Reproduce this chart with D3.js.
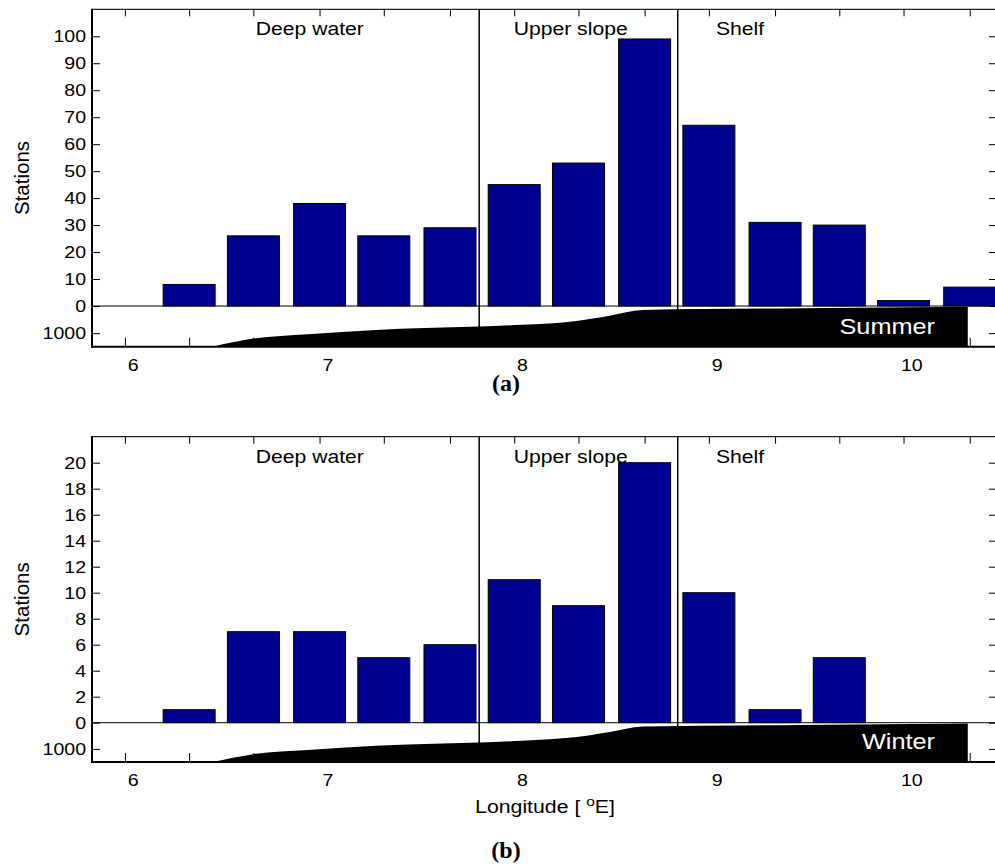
<!DOCTYPE html>
<html>
<head>
<meta charset="utf-8">
<script src="https://cdn.jsdelivr.net/npm/d3@7/dist/d3.min.js"></script>
<style>
  html, body { margin: 0; padding: 0; background: #fff; }
  svg { display: block; }
  text { font-family: "Liberation Sans", Arial, Helvetica, sans-serif; fill: #000; }
</style>
</head>
<body>
<svg id="chart" width="995" height="866"></svg>
<script>
// ---------------- data ----------------
const lonTicks = [6, 7, 8, 9, 10];
const binCenters = [5.96, 6.29, 6.62, 6.96, 7.29, 7.63, 7.96, 8.29, 8.63, 8.96, 9.30, 9.63, 9.96, 10.30];
const summerCounts = [0, 8, 26, 38, 26, 29, 45, 53, 99, 67, 31, 30, 2, 7];
const winterCounts = [0, 1, 7, 7, 5, 6, 11, 9, 20, 10, 1, 5, 0, 0];
const summerTicks = [0, 10, 20, 30, 40, 50, 60, 70, 80, 90, 100];
const winterTicks = [0, 2, 4, 6, 8, 10, 12, 14, 16, 18, 20];
const depthTicks = [1000];
const bathyLon   = [6.41, 6.62, 6.90, 7.25, 7.50, 7.78, 8.00, 8.28, 8.45, 8.62, 9.43, 10.29];
const bathyDepth = [1500, 1200, 1040, 880, 810, 757, 690, 549, 355, 146, 84, 26];
const zoneBounds = [7.78, 8.80];
const zoneNames = ["Deep water", "Upper slope", "Shelf"];
const zoneLabelLon = [6.91, 8.25, 9.12];

// ---------------- layout ----------------
const svg = d3.select("#chart");
const SX = 1.15; // horizontal stretch of text in the original
const left = 92, right = 996;
const x = d3.scaleLinear().domain([5.791, 10.435]).range([left, right]);
const binStep = 0.3339;
const barHalf = binStep * 0.8 / 2;

function stext(parent, px, py, str, size, anchor, extra) {
  const g = parent.append("g").attr("transform", `translate(${px},${py}) scale(${SX},1)`);
  const t = g.append("text").attr("text-anchor", anchor).style("font-size", size + "px").text(str);
  if (extra) extra(t);
  return t;
}

function panel(cfg) {
  const { top, zeroY, bottom, maxCount, counts, ticks, season, label, labelY, showXLabel } = cfg;
  const g = svg.append("g");
  const y = d3.scaleLinear().domain([0, maxCount]).range([zeroY, top]);
  const yd = d3.scaleLinear().domain([0, 1500]).range([zeroY, bottom]);

  const clipId = "clip" + season;
  svg.append("clipPath").attr("id", clipId)
    .append("rect").attr("x", left).attr("y", top).attr("width", right - left).attr("height", bottom - top);
  const plot = g.append("g").attr("clip-path", `url(#${clipId})`);

  // bars
  plot.selectAll("rect.bar").data(counts).join("rect")
    .attr("class", "bar")
    .attr("x", (d, i) => x(binCenters[i] - barHalf))
    .attr("width", (d, i) => x(binCenters[i] + barHalf) - x(binCenters[i] - barHalf))
    .attr("y", d => y(d))
    .attr("height", d => y(0) - y(d))
    .attr("fill", "#000090")
    .attr("stroke", "#000")
    .attr("stroke-width", 1);

  // zone divider lines
  plot.selectAll("line.zone").data(zoneBounds).join("line")
    .attr("x1", d => x(d)).attr("x2", d => x(d))
    .attr("y1", top).attr("y2", bottom)
    .attr("stroke", "#000").attr("stroke-width", 1.5);

  // zero line (top of bathymetry axes)
  plot.append("line").attr("x1", left).attr("x2", right).attr("y1", zeroY).attr("y2", zeroY)
    .attr("stroke", "#000").attr("stroke-width", 1);

  // tick marks at bin centres (top and bottom)
  const topAx = g.append("g").attr("transform", `translate(0,${top})`)
    .call(d3.axisTop(x).tickValues(binCenters).tickSizeInner(-7).tickSizeOuter(0).tickFormat(""));
  topAx.select(".domain").remove();
  topAx.selectAll("line").attr("stroke", "#000");
  const botTickAx = g.append("g").attr("transform", `translate(0,${bottom})`)
    .call(d3.axisBottom(x).tickValues(binCenters).tickSizeInner(-9).tickSizeOuter(0).tickFormat(""));
  botTickAx.select(".domain").remove();

  // bathymetry fill
  const bathy = bathyLon.map((d, i) => [d, bathyDepth[i]]);
  const area = d3.area().x(d => x(d[0])).y0(yd(1500)).y1(d => yd(d[1])).curve(d3.curveMonotoneX);
  plot.append("path").datum(bathy).attr("d", area).attr("fill", "#000");

  // left axis (counts)
  const la = g.append("g").attr("transform", `translate(${left},0)`)
    .call(d3.axisLeft(y).tickValues(ticks).tickSizeInner(-8).tickSizeOuter(0).tickPadding(5.2).tickFormat(d3.format("d")));
  la.select(".domain").remove();
  la.selectAll("text").style("font-size", "17px").attr("transform", `scale(${SX},1)`);
  // left axis (depth)
  const ld = g.append("g").attr("transform", `translate(${left},0)`)
    .call(d3.axisLeft(yd).tickValues(depthTicks).tickSizeInner(-8).tickSizeOuter(0).tickPadding(5.2).tickFormat(d3.format("d")));
  ld.select(".domain").remove();
  ld.selectAll("text").style("font-size", "17px").attr("transform", `scale(${SX},1)`);

  // right axis ticks
  const ra = g.append("g").attr("transform", `translate(${right},0)`)
    .call(d3.axisRight(y).tickValues(ticks).tickSizeInner(-7).tickSizeOuter(0).tickFormat(""));
  ra.select(".domain").remove();
  const rd = g.append("g").attr("transform", `translate(${right},0)`)
    .call(d3.axisRight(yd).tickValues(depthTicks).tickSizeInner(-7).tickSizeOuter(0).tickFormat(""));
  rd.select(".domain").remove();
  rd.selectAll("line").attr("stroke", "#000");

  // x tick labels (longitude)
  const xa = g.append("g").attr("transform", `translate(0,${bottom})`)
    .call(d3.axisBottom(x).tickValues(lonTicks).tickSize(0).tickPadding(12).tickFormat(d3.format("d")));
  xa.select(".domain").remove();
  xa.selectAll("text").style("font-size", "17px").attr("transform", `scale(${SX},1)`).attr("x", 0);

  // frame
  g.append("line").attr("x1", left).attr("x2", right).attr("y1", top).attr("y2", top)
    .attr("stroke", "#222").attr("stroke-width", 1.2);
  g.append("line").attr("x1", left).attr("x2", left).attr("y1", top - 0.6).attr("y2", bottom + 1)
    .attr("stroke", "#000").attr("stroke-width", 2);
  g.append("line").attr("x1", left - 1).attr("x2", right).attr("y1", bottom).attr("y2", bottom)
    .attr("stroke", "#000").attr("stroke-width", 2);

  // zone labels
  zoneNames.forEach((n, i) => stext(g, x(zoneLabelLon[i]), top + 26, n, 18.4, "middle"));

  // season label
  stext(g, 935, bottom - 13, season, 22, "end", t => t.style("fill", "#fff"));

  // y label
  g.append("text")
    .attr("transform", `translate(29,${(top + bottom) / 2}) rotate(-90)`)
    .attr("text-anchor", "middle")
    .style("font-size", "20.5px")
    .text("Stations");

  if (showXLabel) {
    const lg = svg.append("g").attr("transform", `translate(545,813.3) scale(${SX},1)`);
    const t = lg.append("text").attr("text-anchor", "middle").style("font-size", "18.5px");
    t.append("tspan").text("Longitude [ ");
    t.append("tspan").attr("dy", -7.3).style("font-size", "13.5px").text("o");
    t.append("tspan").attr("dy", 7.3).text("E]");
  }

  svg.append("text").attr("x", 506).attr("y", labelY).attr("text-anchor", "middle")
    .style("font-family", "'Liberation Serif', 'Times New Roman', serif")
    .style("font-weight", "bold").style("font-size", "24px").text(label);
}

panel({ top: 9.3, zeroY: 306, bottom: 346.7, maxCount: 110, counts: summerCounts, ticks: summerTicks,
        season: "Summer", label: "(a)", labelY: 391, showXLabel: false });
panel({ top: 436.7, zeroY: 722.7, bottom: 762, maxCount: 22, counts: winterCounts, ticks: winterTicks,
        season: "Winter", label: "(b)", labelY: 857.5, showXLabel: true });
</script>
</body>
</html>
